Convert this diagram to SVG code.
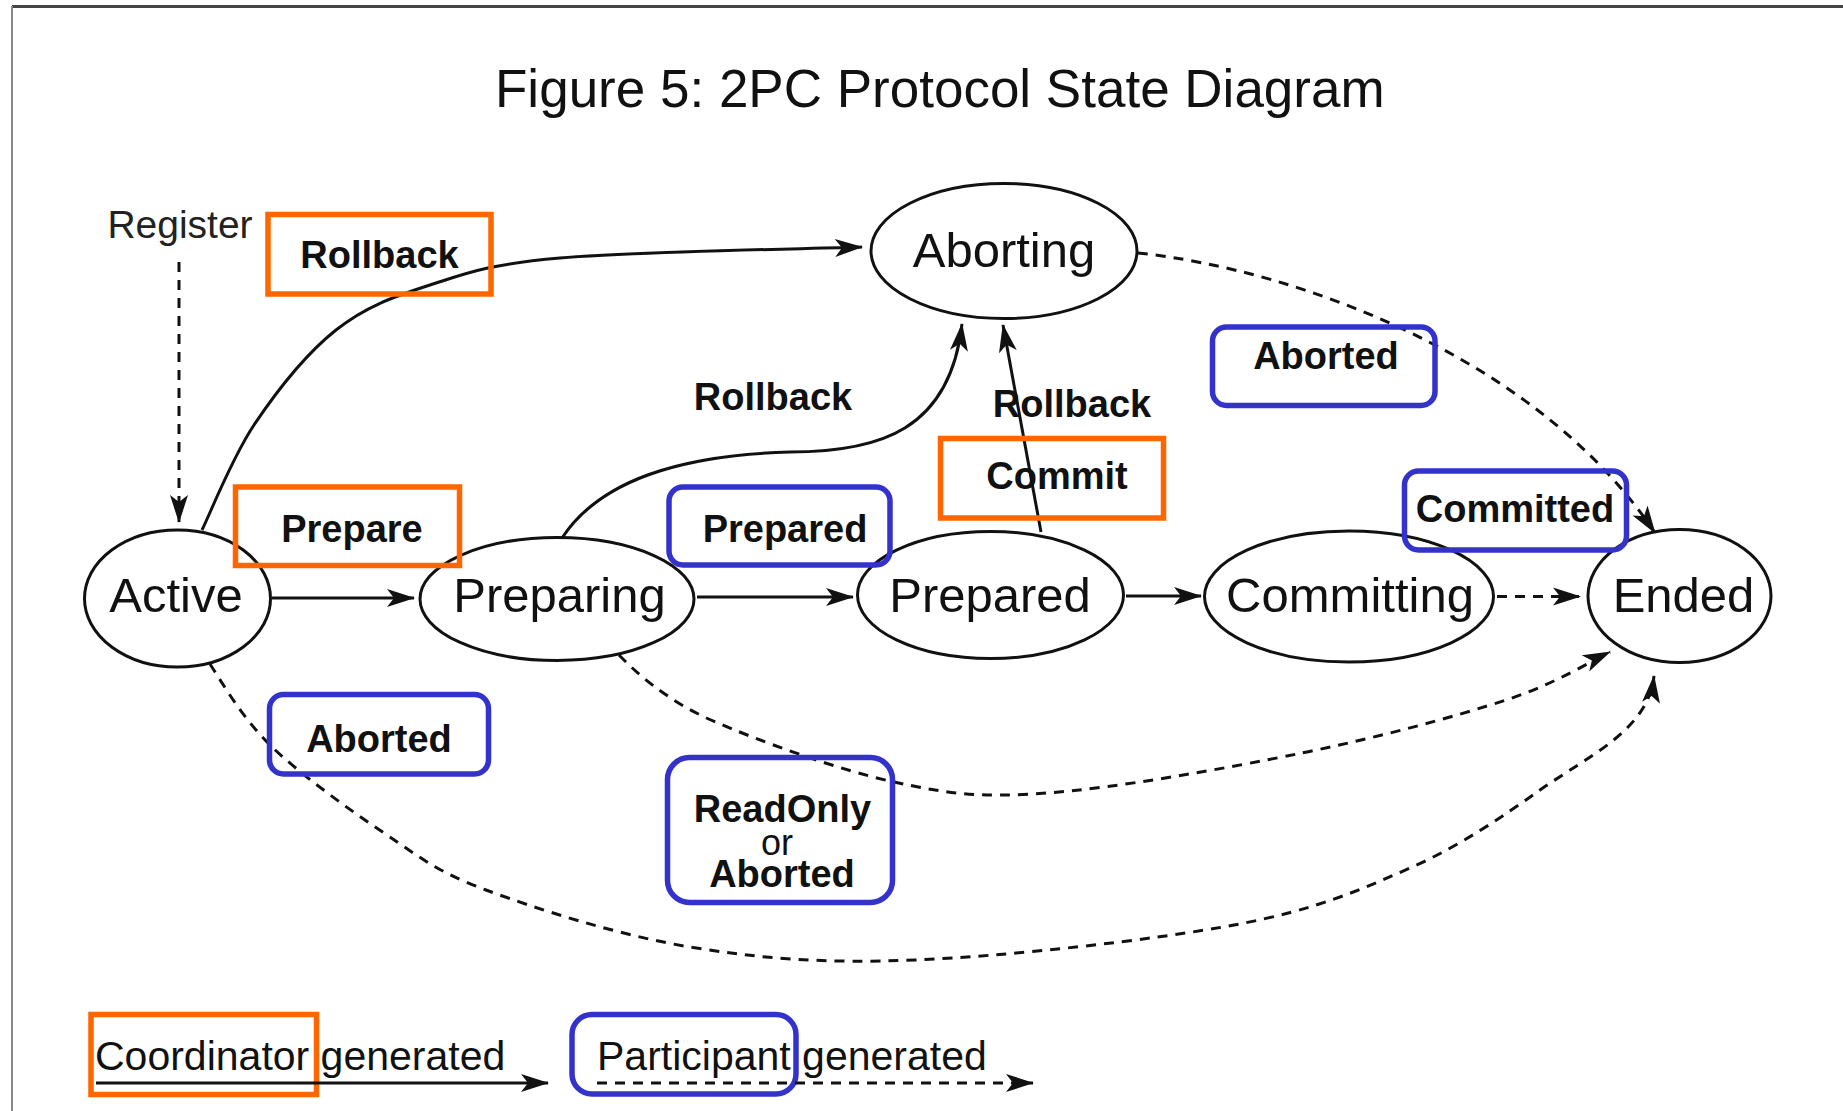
<svg xmlns="http://www.w3.org/2000/svg" width="1843" height="1111" viewBox="0 0 1843 1111">
<style>
  .state { fill: none; stroke: #111; stroke-width: 3; }
  .stxt { font-family: "Liberation Sans", Arial, sans-serif; font-size: 49px; fill: #111; text-anchor: middle; }
  .lbl { font-family: "Liberation Sans", Arial, sans-serif; font-size: 38px; font-weight: bold; fill: #111; text-anchor: middle; }
  .coord { fill: none; stroke: #FF6600; stroke-width: 5.5; }
  .part { fill: none; stroke: #3333CC; stroke-width: 5.5; }
  .solid { fill: none; stroke: #111; stroke-width: 3; marker-end: url(#arr); }
  .dash { fill: none; stroke: #111; stroke-width: 3; stroke-dasharray: 10 8; marker-end: url(#arr); }
  .leg { font-family: "Liberation Sans", Arial, sans-serif; font-size: 41px; fill: #111; }
</style>
<defs>
  <marker id="arr" markerUnits="userSpaceOnUse" markerWidth="28" markerHeight="18" refX="27" refY="9" orient="auto" overflow="visible">
    <path d="M0,0 L28,9 L0,18 L7,9 z" fill="#111" stroke="none"/>
  </marker>
</defs>
<rect width="1843" height="1111" fill="#fff"/>
<line x1="12" y1="6.5" x2="1843" y2="6.5" stroke="#444" stroke-width="3"/>
<line x1="12" y1="6" x2="12" y2="1111" stroke="#888" stroke-width="2"/>

<text x="495" y="107" font-family="Liberation Sans, Arial, sans-serif" font-size="53" fill="#111">Figure 5: 2PC Protocol State Diagram</text>

<g id="connectors">
  <path class="dash" d="M179,262 V522"/>
  <path class="solid" d="M272,598 H414"/>
  <path class="solid" d="M697,597 H853"/>
  <path class="solid" d="M1126,596 H1201"/>
  <path class="dash" d="M1497,596.5 H1580"/>
  <path class="solid" d="M202,530 C210.7,512.5 231.7,458.3 254,425 C276.3,391.7 306.7,353.3 336,330 C365.3,306.7 392.7,297 430,285 C467.3,273 488,264.3 560,258 C632,251.7 811.7,248.8 862,247"/>
  <path class="solid" d="M562,538 C600,480 680,455 790,452 C880,452 950,430 962,324"/>
  <path class="solid" d="M1041,532 L1003,325"/>
  <path class="dash" d="M1138,253 C1300,270 1540,360 1655,533"/>
  <path class="dash" d="M619,655 C634.3,670.8 665.2,699.8 711,720 C756.8,740.2 838,769.8 894,782 C950,794.2 979,797.8 1047,793 C1115,788.2 1225.5,768.5 1302,753 C1378.5,737.5 1454.7,716.8 1506,700 C1557.3,683.2 1592.7,660 1610,652"/>
  <path class="dash" d="M210,664 C221.2,681.2 243.2,719.5 272,747 C300.8,774.5 348.3,809.2 384,833 C419.7,856.8 435,871 486,890 C537,909 618.5,935.3 690,947 C761.5,958.7 824.3,963.7 915,960 C1005.7,956.3 1151.5,940.3 1234,925 C1316.5,909.7 1359,890.5 1410,868 C1461,845.5 1504.2,815.5 1540,790 C1590,755 1648,730 1654,676"/>
</g>

<g id="node-active">
  <ellipse class="state" cx="177.5" cy="598.5" rx="93" ry="68.5"/>
  <text class="stxt" x="176" y="612">Active</text>
</g>
<g id="node-preparing">
  <ellipse class="state" cx="557" cy="599" rx="137" ry="61.5"/>
  <text class="stxt" x="559.5" y="612">Preparing</text>
</g>
<g id="node-prepared">
  <ellipse class="state" cx="990.5" cy="595" rx="133" ry="63.5"/>
  <text class="stxt" x="990" y="612">Prepared</text>
</g>
<g id="node-committing">
  <ellipse class="state" cx="1349" cy="596.5" rx="144.5" ry="65.5"/>
  <text class="stxt" x="1350" y="612">Committing</text>
</g>
<g id="node-ended">
  <ellipse class="state" cx="1679.5" cy="596" rx="91.5" ry="66.5"/>
  <text class="stxt" x="1683.5" y="612">Ended</text>
</g>
<g id="node-aborting">
  <ellipse class="state" cx="1004" cy="251" rx="133" ry="67.5"/>
  <text class="stxt" x="1004" y="267">Aborting</text>
</g>

<g id="label-register">
  <text x="180" y="238" font-family="Liberation Sans, Arial, sans-serif" font-size="39" fill="#222" text-anchor="middle">Register</text>
</g>
<g id="label-rollback-1">
  <rect class="coord" x="268" y="214.5" width="223" height="79.5"/>
  <text class="lbl" x="379.5" y="268">Rollback</text>
</g>
<g id="label-prepare">
  <rect class="coord" x="235.5" y="487" width="224" height="78.5"/>
  <text class="lbl" x="352" y="542">Prepare</text>
</g>
<g id="label-rollback-2">
  <text class="lbl" x="773" y="410">Rollback</text>
</g>
<g id="label-rollback-3">
  <text class="lbl" x="1072" y="417">Rollback</text>
</g>
<g id="label-commit">
  <rect class="coord" x="940.5" y="438.5" width="223" height="79.5"/>
  <text class="lbl" x="1057" y="489">Commit</text>
</g>
<g id="label-prepared">
  <rect class="part" x="669" y="487" width="221" height="78" rx="14"/>
  <text class="lbl" x="785" y="542">Prepared</text>
</g>
<g id="label-aborted-1">
  <rect class="part" x="1212.5" y="327" width="222.5" height="78.5" rx="14"/>
  <text class="lbl" x="1326" y="369">Aborted</text>
</g>
<g id="label-committed">
  <rect class="part" x="1404.5" y="471" width="222" height="79" rx="14"/>
  <text class="lbl" x="1515" y="522">Committed</text>
</g>
<g id="label-aborted-2">
  <rect class="part" x="269.5" y="694.5" width="219" height="79.5" rx="14"/>
  <text class="lbl" x="379" y="752">Aborted</text>
</g>
<g id="label-readonly">
  <rect class="part" x="667.5" y="757.5" width="225" height="145" rx="22"/>
  <text class="lbl" x="782.5" y="822">ReadOnly</text>
  <text x="777" y="855" font-family="Liberation Sans, Arial, sans-serif" font-size="36" fill="#111" text-anchor="middle">or</text>
  <text class="lbl" x="782" y="887">Aborted</text>
</g>

<g id="legend">
  <rect class="coord" x="91" y="1014.5" width="225.5" height="80"/>
  <text class="leg" x="95" y="1070">Coordinator generated</text>
  <path class="solid" d="M96,1083 H548"/>
  <rect class="part" x="572" y="1014.5" width="224" height="79.5" rx="20"/>
  <text class="leg" x="597" y="1070">Participant generated</text>
  <path class="dash" d="M597,1083 H1033"/>
</g>
</svg>
